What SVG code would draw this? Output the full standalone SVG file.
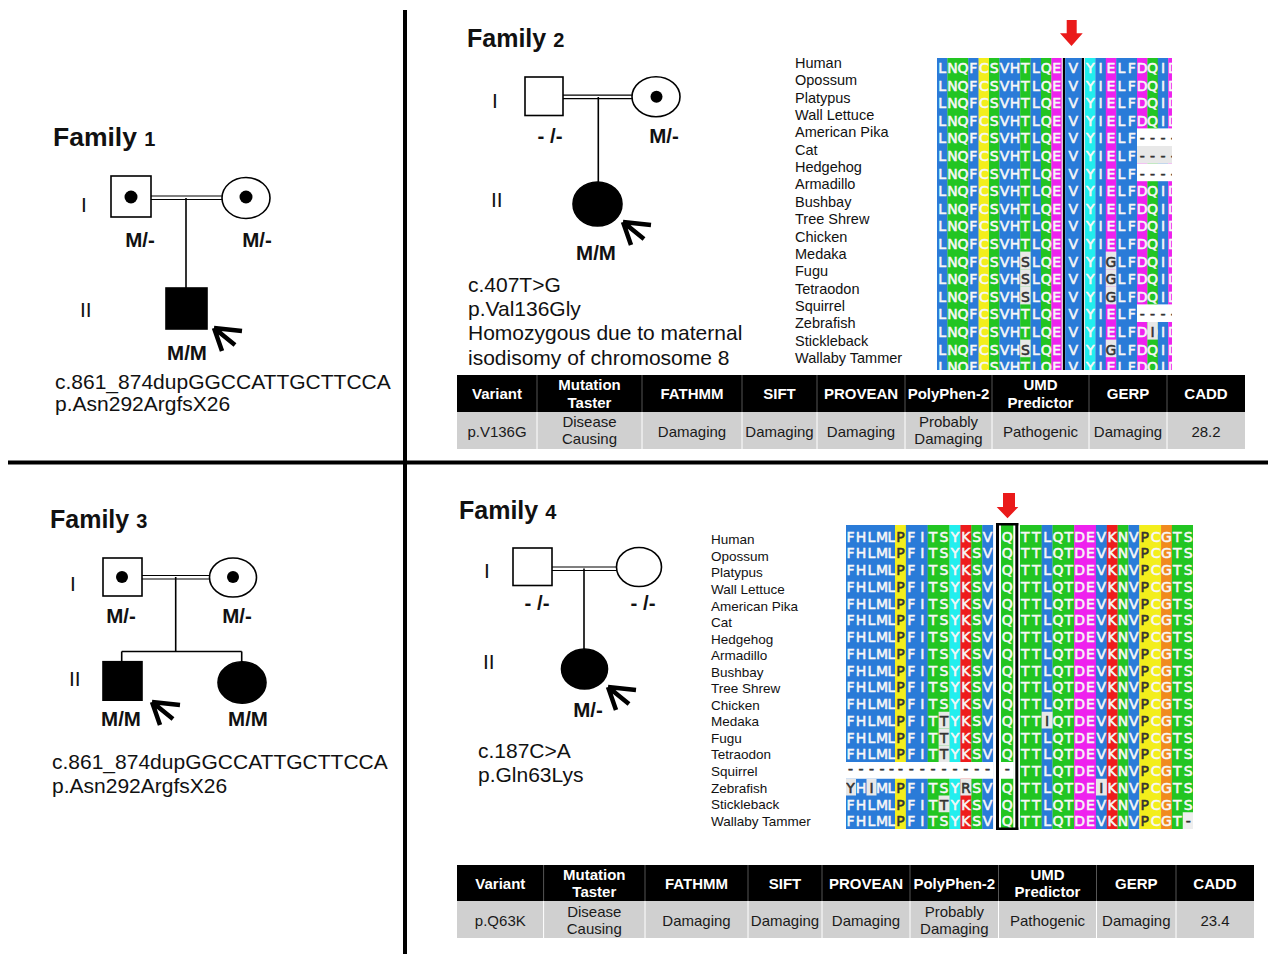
<svg xmlns="http://www.w3.org/2000/svg" width="1268" height="954" viewBox="0 0 1268 954">
<style>
text{font-family:"Liberation Sans",Arial,sans-serif;fill:#111}
.fam{font-weight:bold}
.gen{font-size:21px}
.geno{font-size:20.5px;font-weight:bold;text-anchor:middle}
.mut{font-size:21px}
.sp{font-size:14.5px}
.sp4{font-size:13.5px}
.aa{font-family:"DejaVu Sans",sans-serif;font-size:14px;fill:#f7f7f7;stroke:#f7f7f7;stroke-width:0.55;text-anchor:middle}
.dk{fill:#333;stroke:#333}
.th{font-size:15px;font-weight:bold;fill:#fff;text-anchor:middle}
.td{font-size:15px;fill:#1a1a1a;text-anchor:middle}
.ped{fill:#fff;stroke:#000;stroke-width:1.6}
.aff{fill:#000;stroke:#000;stroke-width:1.6}
.ln{stroke:#000;stroke-width:1.6;fill:none}
.dbl{stroke:#000;stroke-width:1.2;fill:none}
.arr{stroke:#000;stroke-width:4.5;fill:none}
.hs{stroke:#555;stroke-width:1}
.bs{stroke:#fff;stroke-width:1}
.b{fill:#2a7bd8}.g{fill:#22c522}.m{fill:#ee22ee}.y{fill:#f3ee1c}.c{fill:#22eeee}.r{fill:#ee1c1c}.o{fill:#f08a1e}.x{fill:#e8e8e8}.w{fill:#fff}
.red{fill:#ea1a1a}
</style>
<defs>
<path id="pa" class="arr" d="M0,0 L28,3 M0,0 L8,23 M0,0 L21,17"/>
<clipPath id="c2"><rect x="937" y="58" width="235" height="312"/></clipPath>
<clipPath id="c4"><rect x="846" y="525" width="347" height="304"/></clipPath>
<text id="f2t" class="aa"><tspan x="942.2 952.6 963 973.4 983.8 994.2 1004.6 1015 1025.4 1035.8 1046.2 1056.6">LNQFCSVHTLQE</tspan><tspan x="1073.4">V</tspan><tspan x="1090.2 1100.6 1111 1121.4 1131.8 1142.2 1152.6 1163 1173.4">YIELFDQID</tspan></text>
<text id="f4t" class="aa"><tspan x="850.5 861 871.5 882 891.5">FHLML</tspan><tspan class="dk" x="900.45">P</tspan><tspan x="911.35 922.25 933.15 944.05 954.95 965.85 976.75 987.65">FITSYKSV</tspan><tspan x="1007.2">Q</tspan><tspan x="1025.4 1036.3 1047.1 1058 1068.8 1079.7 1090.5 1101.4 1112.2 1123.1 1133.9">TTLQTDEVKNV</tspan><tspan class="dk" x="1144.8">P</tspan><tspan x="1155.6 1166.5 1177.3 1188.2">CGTS</tspan></text>
</defs>
<rect width="1268" height="954" fill="#fff"/>

<!-- panel dividers -->
<g id="dividers">
<rect x="403" y="10" width="4" height="944" fill="#000"/>
<rect x="8" y="460.5" width="1260" height="4" fill="#000"/>
</g>

<!-- connectors (pedigree lines and proband arrows) -->
<g id="connectors">
<path class="dbl" d="M151,196 H222 M151,199.5 H222"/>
<path class="ln" d="M186,198 V288"/>
<use href="#pa" x="214" y="328"/>
<path class="dbl" d="M563,95.2 H632 M563,98.7 H632"/>
<path class="ln" d="M598.3,97 V182"/>
<use href="#pa" x="623" y="222"/>
<path class="dbl" d="M142,575.5 H210 M142,579 H210"/>
<path class="ln" d="M175.7,577 V651.5 M121.7,651.5 H241.7 M121.7,651.5 V661.7 M241.7,651.5 V662"/>
<use href="#pa" x="152" y="702"/>
<path class="dbl" d="M552,567 H617 M552,570.5 H617"/>
<path class="ln" d="M584,568.5 V649"/>
<use href="#pa" x="608" y="687"/>
</g>

<!-- Family 1 -->
<g id="family1">
<text x="53" y="146" class="fam"><tspan font-size="26.5">Family </tspan><tspan font-size="20">1</tspan></text>
<text class="gen" x="81" y="212">I</text>
<text class="gen" x="80" y="317">II</text>
<g id="f1-I1"><rect class="ped" x="111" y="176" width="40" height="41"/><circle cx="131" cy="197" r="6.5"/><text class="geno" x="140" y="247">M/-</text></g>
<g id="f1-I2"><ellipse class="ped" cx="246" cy="198" rx="24" ry="20.5"/><circle cx="246" cy="197" r="6.5"/><text class="geno" x="257" y="247">M/-</text></g>
<g id="f1-II1"><rect class="aff" x="166" y="288" width="41" height="41"/><text class="geno" x="187" y="360">M/M</text></g>
<text class="mut" x="55" y="389">c.861_874dupGGCCATTGCTTCCA</text>
<text class="mut" x="55" y="411">p.Asn292ArgfsX26</text>
</g>

<!-- Family 2 -->
<g id="family2">
<text x="467" y="47" class="fam"><tspan font-size="25">Family </tspan><tspan font-size="20">2</tspan></text>
<text class="gen" x="492" y="108">I</text>
<text class="gen" x="491" y="207">II</text>
<g id="f2-I1"><rect class="ped" x="525" y="77" width="38" height="38.5"/><text class="geno" x="550" y="143">- /-</text></g>
<g id="f2-I2"><ellipse class="ped" cx="656" cy="96.7" rx="24" ry="20"/><circle cx="656.5" cy="96.7" r="6"/><text class="geno" x="664" y="143">M/-</text></g>
<g id="f2-II1"><ellipse class="aff" cx="597.5" cy="204" rx="24.5" ry="22"/><text class="geno" x="596" y="260">M/M</text></g>
<text class="mut" x="468" y="291.5">c.407T&gt;G</text>
<text class="mut" x="468" y="315.5">p.Val136Gly</text>
<text class="mut" x="468" y="340">Homozygous due to maternal</text>
<text class="mut" x="468" y="364.5">isodisomy of chromosome 8</text>
</g>

<g id="f2-species">
<text class="sp"><tspan x="795" y="68">Human</tspan><tspan x="795" y="85.35">Opossum</tspan><tspan x="795" y="102.7">Platypus</tspan><tspan x="795" y="120.05">Wall Lettuce</tspan><tspan x="795" y="137.4">American Pika</tspan><tspan x="795" y="154.75">Cat</tspan><tspan x="795" y="172.1">Hedgehog</tspan><tspan x="795" y="189.45">Armadillo</tspan><tspan x="795" y="206.8">Bushbay</tspan><tspan x="795" y="224.15">Tree Shrew</tspan><tspan x="795" y="241.5">Chicken</tspan><tspan x="795" y="258.85">Medaka</tspan><tspan x="795" y="276.2">Fugu</tspan><tspan x="795" y="293.55">Tetraodon</tspan><tspan x="795" y="310.9">Squirrel</tspan><tspan x="795" y="328.25">Zebrafish</tspan><tspan x="795" y="345.6">Stickleback</tspan><tspan x="795" y="362.95">Wallaby Tammer</tspan></text>
</g>

<g id="f2-alignment" clip-path="url(#c2)">
<rect class="b" x="937" y="58" width="10.6" height="312"/>
<rect class="g" x="947.4" y="58" width="21" height="312"/>
<rect class="b" x="968.2" y="58" width="10.6" height="312"/>
<rect class="y" x="978.6" y="58" width="10.6" height="312"/>
<rect class="g" x="989" y="58" width="10.6" height="312"/>
<rect class="b" x="999.4" y="58" width="21" height="312"/>
<rect class="g" x="1020.2" y="58" width="10.6" height="312"/>
<rect class="b" x="1030.6" y="58" width="10.6" height="312"/>
<rect class="g" x="1041" y="58" width="10.6" height="312"/>
<rect class="m" x="1051.4" y="58" width="10.4" height="312"/>
<rect class="w" x="1061.8" y="58" width="23.2" height="312"/>
<rect fill="#000" x="1062.8" y="58" width="2.4" height="312"/>
<rect class="b" x="1065.2" y="58" width="16.5" height="312"/>
<rect fill="#000" x="1081.7" y="58" width="2.4" height="312"/>
<rect class="c" x="1085" y="58" width="10.6" height="312"/>
<rect class="b" x="1095.4" y="58" width="10.6" height="312"/>
<rect class="m" x="1105.8" y="58" width="10.6" height="312"/>
<rect class="b" x="1116.2" y="58" width="21" height="312"/>
<rect class="m" x="1137" y="58" width="10.6" height="312"/>
<rect class="g" x="1147.4" y="58" width="10.6" height="312"/>
<rect class="b" x="1157.8" y="58" width="10.6" height="312"/>
<rect class="m" x="1168.2" y="58" width="10.6" height="312"/>
<use href="#f2t" y="73"/><use href="#f2t" y="90.6"/><use href="#f2t" y="108.2"/><use href="#f2t" y="125.8"/><use href="#f2t" y="143.4"/><use href="#f2t" y="161"/><use href="#f2t" y="178.6"/><use href="#f2t" y="196.2"/><use href="#f2t" y="213.8"/><use href="#f2t" y="231.4"/><use href="#f2t" y="249"/><use href="#f2t" y="266.6"/><use href="#f2t" y="284.2"/><use href="#f2t" y="301.8"/><use href="#f2t" y="319.4"/><use href="#f2t" y="337"/><use href="#f2t" y="354.6"/><use href="#f2t" y="372.2"/>
<!-- gaps -->
<rect class="w" x="1137" y="128.4" width="36" height="17.6"/>
<rect class="x" x="1137" y="146" width="36" height="17.6"/>
<rect class="w" x="1137" y="163.6" width="36" height="17.6"/>
<rect class="w" x="1137" y="304.4" width="36" height="17.6"/>
<text class="aa dk" x="1142.2 1152.6 1163 1173.4" y="143.4">----</text>
<text class="aa dk" x="1142.2 1152.6 1163 1173.4" y="161">----</text>
<text class="aa dk" x="1142.2 1152.6 1163 1173.4" y="178.6">----</text>
<text class="aa dk" x="1142.2 1152.6 1163 1173.4" y="319.4">----</text>
<!-- substitutions -->
<rect class="x" x="1020.2" y="251.6" width="10.4" height="17.6"/><rect class="x" x="1105.8" y="251.6" width="10.4" height="17.6"/>
<rect class="x" x="1020.2" y="269.2" width="10.4" height="17.6"/><rect class="x" x="1105.8" y="269.2" width="10.4" height="17.6"/>
<rect class="x" x="1020.2" y="286.8" width="10.4" height="17.6"/><rect class="x" x="1105.8" y="286.8" width="10.4" height="17.6"/>
<rect class="x" x="1020.2" y="339.6" width="10.4" height="17.6"/><rect class="x" x="1105.8" y="339.6" width="10.4" height="17.6"/>
<rect class="x" x="1147.4" y="322" width="10.4" height="17.6"/>
<text class="aa dk" x="1025.4 1111" y="266.6">SG</text>
<text class="aa dk" x="1025.4 1111" y="284.2">SG</text>
<text class="aa dk" x="1025.4 1111" y="301.8">SG</text>
<text class="aa dk" x="1025.4 1111" y="354.6">SG</text>
<text class="aa dk" x="1152.6" y="337">I</text>
</g>
<g id="f2-marker"><path class="red" d="M1066.7,20 H1076.7 V33.3 H1082.7 L1071.5,46 L1060,33.3 H1066.7 Z"/></g>

<g id="table1">
<rect x="457" y="375" width="788" height="37" fill="#000"/>
<rect x="457" y="412" width="788" height="37" fill="#d0d0d0"/>
<path class="hs" d="M537,375 V412 M642,375 V412 M742,375 V412 M817,375 V412 M905,375 V412 M992,375 V412 M1089,375 V412 M1167,375 V412"/>
<path class="bs" d="M537,412 V449 M642,412 V449 M742,412 V449 M817,412 V449 M905,412 V449 M992,412 V449 M1089,412 V449 M1167,412 V449"/>
<text class="th" x="497" y="399">Variant</text>
<text class="th" x="589.5" y="390">Mutation</text><text class="th" x="589.5" y="407.5">Taster</text>
<text class="th" x="692" y="399">FATHMM</text>
<text class="th" x="779.5" y="399">SIFT</text>
<text class="th" x="861" y="399">PROVEAN</text>
<text class="th" x="948.5" y="399">PolyPhen-2</text>
<text class="th" x="1040.5" y="390">UMD</text><text class="th" x="1040.5" y="407.5">Predictor</text>
<text class="th" x="1128" y="399">GERP</text>
<text class="th" x="1206" y="399">CADD</text>
<text class="td" x="497" y="436.5">p.V136G</text>
<text class="td" x="589.5" y="426.5">Disease</text><text class="td" x="589.5" y="444">Causing</text>
<text class="td" x="692" y="436.5">Damaging</text>
<text class="td" x="779.5" y="436.5">Damaging</text>
<text class="td" x="861" y="436.5">Damaging</text>
<text class="td" x="948.5" y="426.5">Probably</text><text class="td" x="948.5" y="444">Damaging</text>
<text class="td" x="1040.5" y="436.5">Pathogenic</text>
<text class="td" x="1128" y="436.5">Damaging</text>
<text class="td" x="1206" y="436.5">28.2</text>
</g>

<!-- Family 3 -->
<g id="family3">
<text x="50" y="528" class="fam"><tspan font-size="25">Family </tspan><tspan font-size="20">3</tspan></text>
<text class="gen" x="70" y="591">I</text>
<text class="gen" x="69" y="686">II</text>
<g id="f3-I1"><rect class="ped" x="103" y="558" width="39" height="38"/><circle cx="122" cy="577" r="6"/><text class="geno" x="121" y="623">M/-</text></g>
<g id="f3-I2"><ellipse class="ped" cx="233" cy="577.5" rx="23.5" ry="19.5"/><circle cx="233" cy="577" r="6"/><text class="geno" x="237" y="623">M/-</text></g>
<g id="f3-II1"><rect class="aff" x="103" y="661.7" width="39" height="38.5"/><text class="geno" x="121" y="726">M/M</text></g>
<g id="f3-II2"><ellipse class="aff" cx="242" cy="682.5" rx="24" ry="20.7"/><text class="geno" x="248" y="726">M/M</text></g>
<text class="mut" x="52" y="769">c.861_874dupGGCCATTGCTTCCA</text>
<text class="mut" x="52" y="793">p.Asn292ArgfsX26</text>
</g>

<!-- Family 4 -->
<g id="family4">
<text x="459" y="519" class="fam"><tspan font-size="25">Family </tspan><tspan font-size="20">4</tspan></text>
<text class="gen" x="484" y="578">I</text>
<text class="gen" x="483" y="669">II</text>
<g id="f4-I1"><rect class="ped" x="513" y="548" width="39" height="37.5"/><text class="geno" x="537" y="610">- /-</text></g>
<g id="f4-I2"><ellipse class="ped" cx="639" cy="567" rx="22.5" ry="19.5"/><text class="geno" x="643" y="610">- /-</text></g>
<g id="f4-II1"><ellipse class="aff" cx="584.5" cy="669" rx="23" ry="20"/><text class="geno" x="588" y="717">M/-</text></g>
<text class="mut" x="478" y="758">c.187C&gt;A</text>
<text class="mut" x="478" y="781.5">p.Gln63Lys</text>
</g>

<g id="f4-species">
<text class="sp4"><tspan x="711" y="544.3">Human</tspan><tspan x="711" y="560.85">Opossum</tspan><tspan x="711" y="577.4">Platypus</tspan><tspan x="711" y="593.95">Wall Lettuce</tspan><tspan x="711" y="610.5">American Pika</tspan><tspan x="711" y="627.05">Cat</tspan><tspan x="711" y="643.6">Hedgehog</tspan><tspan x="711" y="660.15">Armadillo</tspan><tspan x="711" y="676.7">Bushbay</tspan><tspan x="711" y="693.25">Tree Shrew</tspan><tspan x="711" y="709.8">Chicken</tspan><tspan x="711" y="726.35">Medaka</tspan><tspan x="711" y="742.9">Fugu</tspan><tspan x="711" y="759.45">Tetraodon</tspan><tspan x="711" y="776">Squirrel</tspan><tspan x="711" y="792.55">Zebrafish</tspan><tspan x="711" y="809.1">Stickleback</tspan><tspan x="711" y="825.65">Wallaby Tammer</tspan></text>
</g>

<g id="f4-alignment" clip-path="url(#c4)">
<rect class="b" x="840.5" y="525" width="54.7" height="304"/>
<rect class="y" x="895" y="525" width="11.1" height="304"/>
<rect class="b" x="905.9" y="525" width="22" height="304"/>
<rect class="g" x="927.7" y="525" width="22" height="304"/>
<rect class="c" x="949.5" y="525" width="11.1" height="304"/>
<rect class="r" x="960.4" y="525" width="11.1" height="304"/>
<rect class="g" x="971.3" y="525" width="11.1" height="304"/>
<rect class="b" x="982.2" y="525" width="10.9" height="304"/>
<rect class="g" x="1001" y="525" width="12.3" height="304"/>
<rect class="g" x="1020" y="525" width="21.9" height="304"/>
<rect class="b" x="1041.7" y="525" width="11" height="304"/>
<rect class="g" x="1052.55" y="525" width="21.9" height="304"/>
<rect class="m" x="1074.25" y="525" width="21.9" height="304"/>
<rect class="b" x="1095.95" y="525" width="11" height="304"/>
<rect class="r" x="1106.8" y="525" width="11" height="304"/>
<rect class="g" x="1117.65" y="525" width="11" height="304"/>
<rect class="b" x="1128.5" y="525" width="11" height="304"/>
<rect class="y" x="1139.35" y="525" width="21.9" height="304"/>
<rect class="o" x="1161.05" y="525" width="11" height="304"/>
<rect class="g" x="1171.9" y="525" width="22" height="304"/>
<use href="#f4t" y="541.5"/><use href="#f4t" y="558.25"/><use href="#f4t" y="575"/><use href="#f4t" y="591.75"/><use href="#f4t" y="608.5"/><use href="#f4t" y="625.25"/><use href="#f4t" y="642"/><use href="#f4t" y="658.75"/><use href="#f4t" y="675.5"/><use href="#f4t" y="692.25"/><use href="#f4t" y="709"/><use href="#f4t" y="725.75"/><use href="#f4t" y="742.5"/><use href="#f4t" y="759.25"/><use href="#f4t" y="776"/><use href="#f4t" y="792.75"/><use href="#f4t" y="809.5"/><use href="#f4t" y="826.25"/>
<!-- substitutions -->
<rect class="x" x="938.6" y="711.75" width="10.9" height="16.75"/><rect class="x" x="1041.7" y="711.75" width="10.85" height="16.75"/>
<rect class="x" x="938.6" y="728.5" width="10.9" height="16.75"/>
<rect class="x" x="938.6" y="745.25" width="10.9" height="16.75"/>
<rect class="x" x="938.6" y="795.5" width="10.9" height="16.75"/>
<text class="aa dk" x="944.05 1047.1" y="725.75">TI</text>
<text class="aa dk" x="944.05" y="742.5">T</text>
<text class="aa dk" x="944.05" y="759.25">T</text>
<text class="aa dk" x="944.05" y="809.5">T</text>
<rect class="w" x="846" y="762" width="147.5" height="16.75"/>
<rect class="w" x="1000.5" y="762" width="13.3" height="16.75"/>
<text class="aa dk" x="850.5 861 871.5 882 891.5 900.45 911.35 922.25 933.15 944.05 954.95 965.85 976.75 987.65 1007.2" y="774">---------------</text>
<rect class="x" x="846" y="778.75" width="10" height="16.75"/>
<rect class="x" x="866.5" y="778.75" width="10" height="16.75"/>
<rect class="x" x="960.4" y="778.75" width="10.9" height="16.75"/>
<rect class="x" x="1095.95" y="778.75" width="10.85" height="16.75"/>
<text class="aa dk" x="850.5 871.5 965.85 1101.4" y="792.75">YIRI</text>
<rect fill="#eeeeee" x="1182.75" y="812.25" width="11" height="16.75"/>
<text class="aa dk" x="1188.2" y="826.25">-</text>
</g>
<g id="f4-box" fill="#000">
<rect x="996" y="523" width="3" height="307"/>
<rect x="1015.3" y="523" width="3" height="307"/>
<rect x="996" y="523" width="22.3" height="2.5"/>
<rect x="996" y="827.5" width="22.3" height="2.5"/>
</g>
<g id="f4-marker"><path class="red" d="M1003,493 H1015 V507 H1018.3 L1007.5,518.3 L996.7,507 H1003 Z"/></g>

<g id="table2">
<rect x="457" y="865" width="797" height="36" fill="#000"/>
<rect x="457" y="901" width="797" height="37" fill="#d0d0d0"/>
<path class="hs" d="M543.6,865 V901 M645,865 V901 M748,865 V901 M822,865 V901 M910,865 V901 M998.5,865 V901 M1096.5,865 V901 M1176,865 V901"/>
<path class="bs" d="M543.6,901 V938 M645,901 V938 M748,901 V938 M822,901 V938 M910,901 V938 M998.5,901 V938 M1096.5,901 V938 M1176,901 V938"/>
<text class="th" x="500.3" y="888.5">Variant</text>
<text class="th" x="594.3" y="879.5">Mutation</text><text class="th" x="594.3" y="897">Taster</text>
<text class="th" x="696.5" y="888.5">FATHMM</text>
<text class="th" x="785" y="888.5">SIFT</text>
<text class="th" x="866" y="888.5">PROVEAN</text>
<text class="th" x="954.3" y="888.5">PolyPhen-2</text>
<text class="th" x="1047.5" y="879.5">UMD</text><text class="th" x="1047.5" y="897">Predictor</text>
<text class="th" x="1136.3" y="888.5">GERP</text>
<text class="th" x="1215" y="888.5">CADD</text>
<text class="td" x="500.3" y="926">p.Q63K</text>
<text class="td" x="594.3" y="916.5">Disease</text><text class="td" x="594.3" y="934">Causing</text>
<text class="td" x="696.5" y="926">Damaging</text>
<text class="td" x="785" y="926">Damaging</text>
<text class="td" x="866" y="926">Damaging</text>
<text class="td" x="954.3" y="916.5">Probably</text><text class="td" x="954.3" y="934">Damaging</text>
<text class="td" x="1047.5" y="926">Pathogenic</text>
<text class="td" x="1136.3" y="926">Damaging</text>
<text class="td" x="1215" y="926">23.4</text>
</g>
</svg>
